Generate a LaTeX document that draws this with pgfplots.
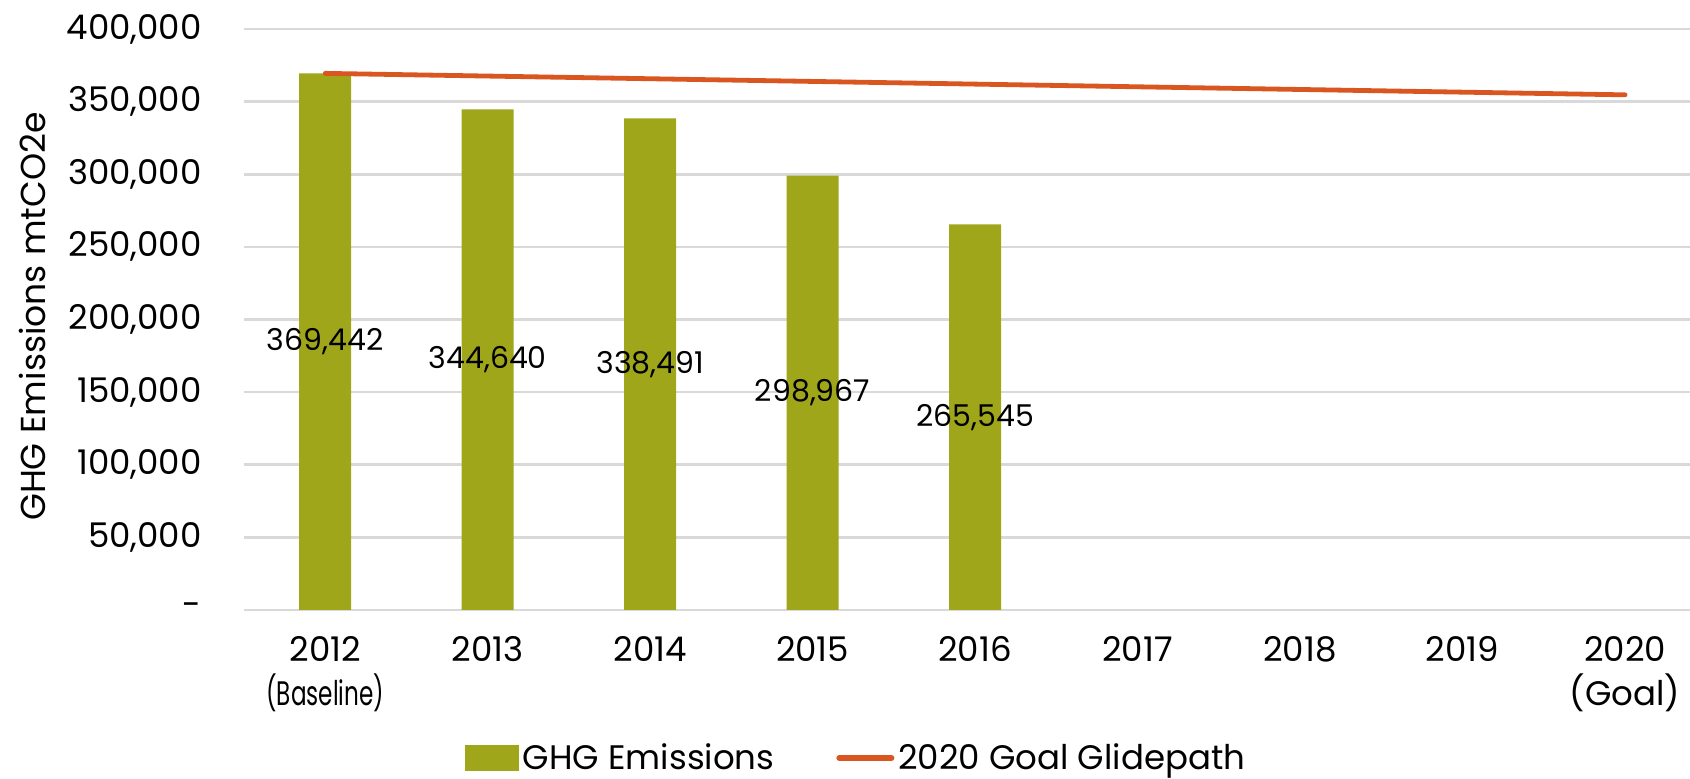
\documentclass[border=0pt]{standalone}
\usepackage{graphicx}
\usepackage{pgfplots}
\pgfplotsset{compat=1.18}
\usepackage{fontspec}
\setmainfont{Poppins}
\definecolor{barcol}{RGB}{160,166,26}
\definecolor{linecol}{RGB}{218,86,32}
\definecolor{gridcol}{RGB}{217,217,217}
\begin{document}
\begin{tikzpicture}
\begin{axis}[
  name=ax,
  scale only axis,
  width=723pt, height=290.5pt,
  xmin=-0.5, xmax=8.4,
  ymin=0, ymax=400000,
  scaled y ticks=false,
  axis line style={draw=none},
  axis x line*=bottom,
  axis y line*=left,
  xtick={0,1,2,3,4,5,6,7,8},
  xticklabels={{2012\\\scalebox{0.68}[1]{(Baseline)}},{2013},{2014},{2015},{2016},{2017},{2018},{2019},{2020\\(Goal)}},
  xticklabel style={align=center, anchor=north, font=\fontsize{17}{22}\selectfont, inner sep=0pt, yshift=-13pt},
  ytick={0,50000,100000,150000,200000,250000,300000,350000,400000},
  yticklabels={{\raisebox{-3pt}{-}},{50,000},{100,000},{150,000},{200,000},{250,000},{300,000},{350,000},{400,000}},
  yticklabel style={font=\fontsize{17}{20}\selectfont, anchor=east, inner sep=0pt, xshift=-21pt},
  major tick length=0pt,
  ymajorgrids,
  grid style={draw=gridcol, line width=1.3pt},
  ylabel={GHG Emissions mtCO2e},
  ylabel style={font=\fontsize{17.3}{20}\selectfont, at={(axis description cs:-0.1466,0.505)}, anchor=center, rotate=0},
  legend columns=2,
  legend style={draw=none, at={(axis description cs:0.424,-0.2547)}, anchor=center, font=\fontsize{17}{20}\selectfont,
    /tikz/every even column/.append style={column sep=29pt}},
  legend cell align=left,
  clip=false,
]
\addplot[ybar, bar width=0.32, fill=barcol, draw=none,
  legend image code/.code={\fill[barcol] (0pt,-6.5pt) rectangle (27pt,6.5pt);}]
  coordinates {(0,369442) (1,344640) (2,338491) (3,298967) (4,265545)};
\addlegendentry{GHG Emissions}
\addplot[linecol, line width=2.4pt, line cap=round, mark=none,
  legend image code/.code={\draw[linecol, line width=3pt, line cap=round] (0pt,0pt) -- (26pt,0pt);}]
  coordinates {(0,369442) (8,354664)};
\addlegendentry{2020 Goal Glidepath}
\addplot[draw=none, mark=none, forget plot,
  nodes near coords, point meta=explicit symbolic,
  nodes near coords style={anchor=center, font=\fontsize{15}{18}\selectfont, text=black}]
  table[meta=label] {
x y label
0 184721 369,442
1 172320 344,640
2 169246 338,491
3 149484 298,967
4 132773 265,545
};
\end{axis}
\pgfresetboundingbox
\path[use as bounding box] (ax.south west) ++(-122pt,-84.5pt) rectangle ++(845pt,389.5pt);
\end{tikzpicture}
\end{document}
